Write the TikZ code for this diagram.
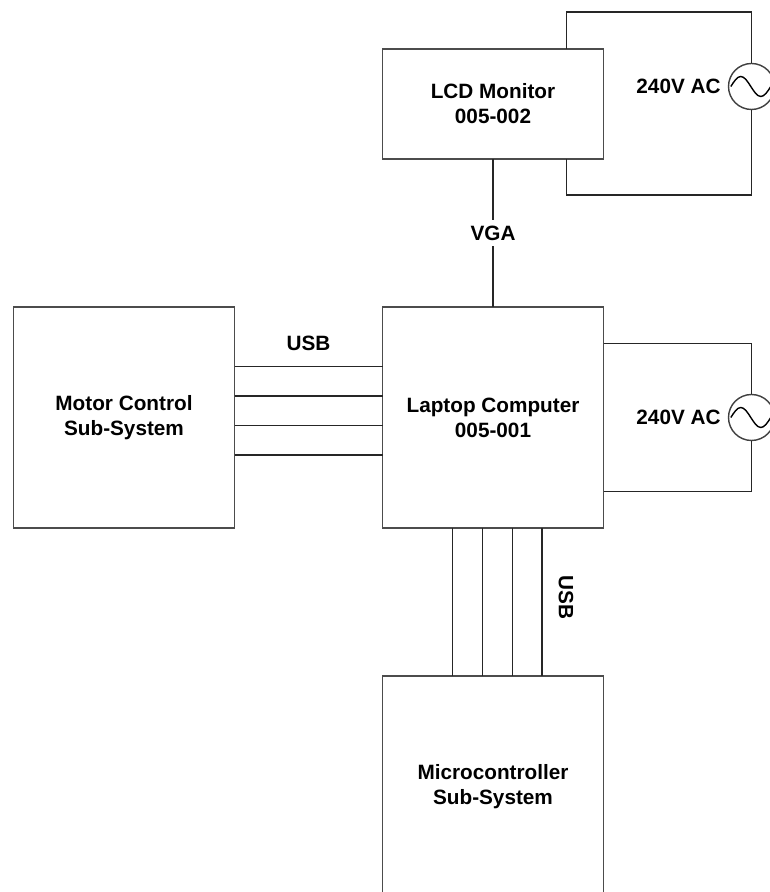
\documentclass[tikz,border=0pt]{standalone}
\usepackage{fontspec}
\setmainfont{Liberation Sans}
\usetikzlibrary{calc,positioning}
\begin{document}
\begin{tikzpicture}[node distance=2.96cm,
    blk/.style={draw=black!70,line width=1.1pt,fill=white,outer sep=0pt,minimum width=4.42cm,minimum height=4.42cm,align=center},
    src/.style={draw=black!75,line width=0.8pt,fill=white,circle,inner sep=0pt,minimum size=0.92cm},
    lbl/.style={font=\bfseries\fontsize{11.8}{14.2}\selectfont,align=center},
    wire/.style={draw=black!85,line width=1pt}]
      \useasboundingbox (0,0) rectangle (15.38,17.84);
      \node[blk,lbl] (laptop) at (9.86,9.49) {Laptop Computer\\005-001};
      \node[blk,lbl,minimum height=2.2cm,above=of laptop] (lcd) {LCD Monitor\\005-002};
      \node[blk,lbl,left=of laptop] (motor) {Motor Control\\Sub-System};
      \node[blk,lbl,below=of laptop] (micro) {Microcontroller\\Sub-System};
      % mains supplies
      \node[src] (ac1) at ([xshift=2.96cm,yshift=0.35cm]lcd.east) {};
      \node[src] (ac2) at ([xshift=2.96cm]laptop.east) {};
      \node[lbl,left=0.02cm of ac1] (v1) {240V AC};
      \node[lbl,left=0.02cm of ac2] (v2) {240V AC};
      \foreach \s in {ac1,ac2}{\draw[line width=0.8pt] (\s.west) ++(0.06,0) sin ++(0.2,0.2) cos ++(0.2,-0.2) sin ++(0.2,-0.2) cos ++(0.2,0.2);}
      \draw[wire] (ac1.north) |- ([xshift=-0.74cm,yshift=0.74cm]lcd.north east) -- ([xshift=-0.74cm]lcd.north east);
      \draw[wire] (ac1.south) |- ([xshift=-0.74cm,yshift=-0.72cm]lcd.south east) -- ([xshift=-0.74cm]lcd.south east);
      \draw[wire] ([yshift=1.48cm]laptop.east) -| (ac2.north);
      \draw[wire] ([yshift=-1.48cm]laptop.east) -| (ac2.south);
      % data links
      \draw[wire] (lcd) -- node[lbl,fill=white] (vga) {VGA} (laptop);
      \foreach \dy in {1.02,0.43,-0.16,-0.75}{\draw[wire] ([yshift=\dy cm]motor.east) -- ([yshift=\dy cm]laptop.west);}
      \foreach \dx in {-0.81,-0.21,0.39,0.98}{\draw[wire] ([xshift=\dx cm]laptop.south) -- ([xshift=\dx cm]micro.north);}
      \node[lbl] (usbm) at ([yshift=1.49cm]$(motor.east)!0.5!(laptop.west)$) {USB};
      \node[lbl,rotate=-90] (usbu) at ([xshift=1.46cm]$(laptop.south)!0.47!(micro.north)$) {USB};
    \end{tikzpicture}
\end{document}
